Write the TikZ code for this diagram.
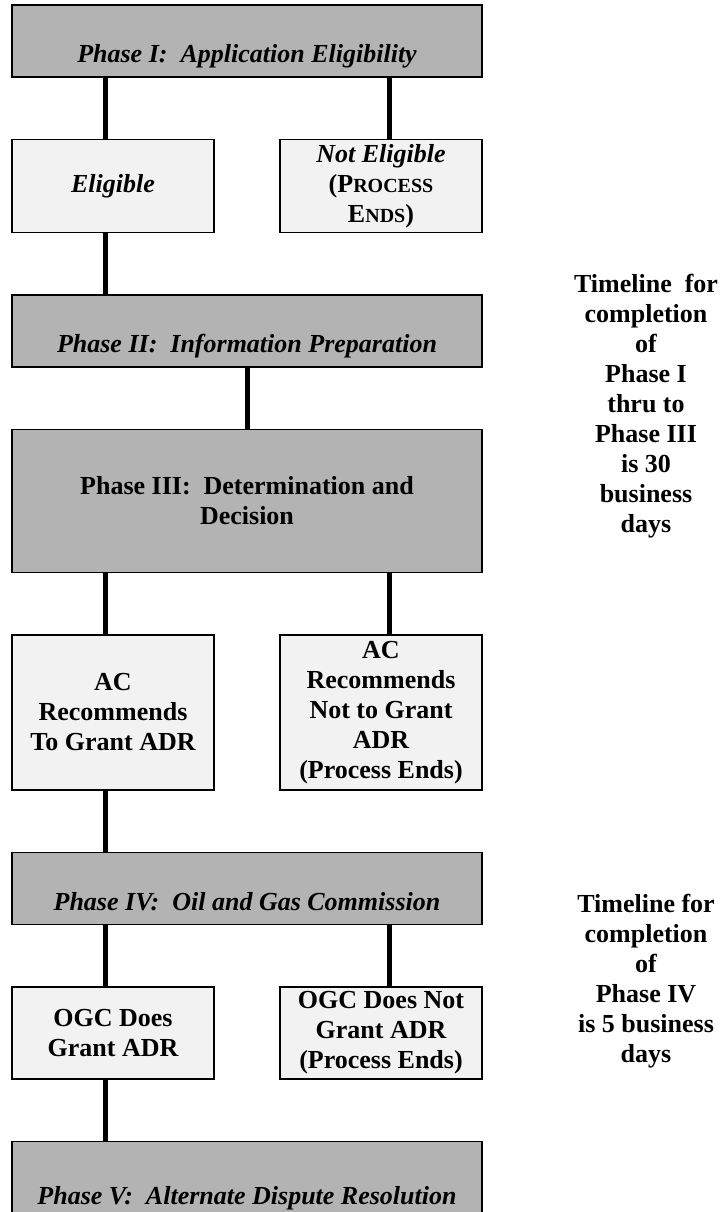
\documentclass[tikz,border=0pt]{standalone}
\usepackage{fontspec}
\setmainfont{Liberation Serif}
\usepackage{xcolor}
\usepackage{tikz}
\usetikzlibrary{positioning}
\definecolor{phasegray}{RGB}{179,179,179}
\definecolor{choicegray}{RGB}{242,242,242}
\newcommand{\smallcap}[1]{{\fontsize{20}{30}\selectfont #1}}

\begin{document}
\begin{tikzpicture}[
    x=1pt, y=-1pt,
    node distance=61pt,
    txt/.style={font=\fontsize{26}{30}\selectfont\bfseries, align=center},
    em/.style={font=\fontsize{26}{30}\selectfont\bfseries\itshape},
    phasebox/.style={draw, line width=1.5pt, fill=phasegray, minimum width=470pt,
                     minimum height=72pt, inner ysep=2pt, txt},
    phasehead/.style={phasebox, em, text height=46pt, text depth=3pt},
    choicebox/.style={draw, line width=1.5pt, fill=choicegray, minimum width=202pt,
                      inner ysep=2pt, txt},
    conn/.style={line width=5pt},
]
\useasboundingbox (0,0) rectangle (725,1212);

% --- Phase I ---
\node[phasehead] (ph1) at (247,41) {Phase I:\ \ Application Eligibility};
\node[choicebox, em, minimum height=93pt, below=of ph1.south west, anchor=north west] (elig) {Eligible};
\node[choicebox, em, minimum height=93pt, below=of ph1.south east, anchor=north east] (notelig)
    {Not Eligible\\{\upshape (P\smallcap{ROCESS}}\\{\upshape E\smallcap{NDS})}};

% --- Phase II and III ---
\node[phasehead, below=of elig.south west, anchor=north west] (ph2) {Phase II:\ \ Information Preparation};
\node[phasebox, minimum height=143pt, below=of ph2] (ph3) {Phase III:\ \ Determination and\\Decision};
\node[choicebox, minimum height=155pt, below=of ph3.south west, anchor=north west] (acyes)
    {AC\\Recommends\\To Grant ADR};
\node[choicebox, minimum height=155pt, below=of ph3.south east, anchor=north east] (acno)
    {AC\\Recommends\\Not to Grant\\ADR\\(Process Ends)};

% --- Phase IV ---
\node[phasehead, below=of acyes.south west, anchor=north west] (ph4) {Phase IV:\ \ Oil and Gas Commission};
\node[choicebox, minimum height=92pt, below=of ph4.south west, anchor=north west] (ogcyes)
    {OGC Does\\Grant ADR};
\node[choicebox, minimum height=92pt, below=of ph4.south east, anchor=north east] (ogcno)
    {OGC Does Not\\Grant ADR\\(Process Ends)};

% --- Phase V ---
\node[phasehead, minimum height=82pt, below=of ogcyes.south west, anchor=north west] (ph5)
    {Phase V:\ \ Alternate Dispute Resolution};

% --- Timelines ---
\node[txt] (tl1) at (646,406) {Timeline\ \ for\\completion\\of\\Phase I\\thru to\\Phase III\\is 30\\business\\days};
\node[txt] (tl2) at (646,981) {Timeline for\\completion\\of\\Phase IV\\is 5 business\\days};

% --- Connectors ---
\coordinate (lcol) at (105,0);
\coordinate (rcol) at (389,0);
\draw[conn] (ph1.south -| lcol) -- (elig.north -| lcol);
\draw[conn] (ph1.south -| rcol) -- (notelig.north -| rcol);
\draw[conn] (elig.south -| lcol) -- (ph2.north -| lcol);
\draw[conn] (ph2.south) -- (ph3.north);
\draw[conn] (ph3.south -| lcol) -- (acyes.north -| lcol);
\draw[conn] (ph3.south -| rcol) -- (acno.north -| rcol);
\draw[conn] (acyes.south -| lcol) -- (ph4.north -| lcol);
\draw[conn] (ph4.south -| lcol) -- (ogcyes.north -| lcol);
\draw[conn] (ph4.south -| rcol) -- (ogcno.north -| rcol);
\draw[conn] (ogcyes.south -| lcol) -- (ph5.north -| lcol);

\end{tikzpicture}
\end{document}
